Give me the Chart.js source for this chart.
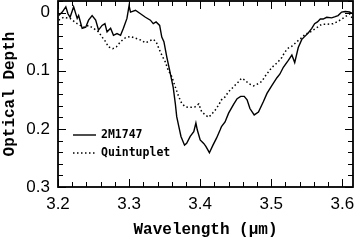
<!DOCTYPE html>
<html>
<head>
<meta charset="utf-8">
<script src="https://cdn.jsdelivr.net/npm/chart.js@4/dist/chart.umd.min.js"></script>
<style>
  html, body { margin: 0; padding: 0; background: #fff; }
  #wrap { width: 357px; height: 240px; }
</style>
</head>
<body>
<div id="wrap"><canvas id="depthChart" width="357" height="240"></canvas></div>
<script>
// 2M1747 spectrum (solid)
const starWave = [3.201, 3.206, 3.211, 3.214, 3.217, 3.222, 3.227, 3.229, 3.234, 3.239, 3.243, 3.248, 3.253, 3.257, 3.262, 3.266, 3.269, 3.274, 3.278, 3.283, 3.288, 3.292, 3.297, 3.300, 3.302, 3.309, 3.316, 3.323, 3.330, 3.334, 3.338, 3.343, 3.346, 3.349, 3.353, 3.357, 3.362, 3.365, 3.367, 3.370, 3.373, 3.378, 3.381, 3.386, 3.391, 3.394, 3.396, 3.400, 3.405, 3.408, 3.413, 3.418, 3.423, 3.428, 3.430, 3.435, 3.440, 3.447, 3.452, 3.457, 3.462, 3.466, 3.470, 3.476, 3.482, 3.489, 3.494, 3.501, 3.508, 3.512, 3.517, 3.524, 3.529, 3.533, 3.538, 3.543, 3.548, 3.552, 3.557, 3.561, 3.565, 3.569, 3.573, 3.578, 3.585, 3.590, 3.594, 3.599, 3.604, 3.610, 3.615];
const starDepth = [0.005, -0.001, -0.010, 0.002, 0.008, -0.010, 0.010, 0.005, 0.027, 0.025, 0.013, 0.005, 0.013, 0.030, 0.022, 0.019, 0.033, 0.027, 0.039, 0.036, 0.039, 0.027, 0.010, -0.012, -0.001, -0.004, 0.002, 0.008, 0.013, 0.019, 0.016, 0.022, 0.042, 0.050, 0.076, 0.099, 0.128, 0.156, 0.179, 0.196, 0.213, 0.228, 0.225, 0.213, 0.205, 0.190, 0.202, 0.219, 0.225, 0.230, 0.241, 0.228, 0.216, 0.202, 0.196, 0.188, 0.173, 0.158, 0.148, 0.144, 0.144, 0.150, 0.165, 0.176, 0.171, 0.153, 0.139, 0.125, 0.112, 0.106, 0.094, 0.082, 0.073, 0.086, 0.060, 0.046, 0.040, 0.035, 0.027, 0.019, 0.016, 0.011, 0.011, 0.008, 0.009, 0.007, 0.005, -0.001, -0.002, -0.001, 0.002];

// Quintuplet spectrum (dotted)
const quintWave = [3.201, 3.208, 3.217, 3.227, 3.236, 3.243, 3.250, 3.257, 3.262, 3.267, 3.271, 3.277, 3.282, 3.288, 3.295, 3.302, 3.309, 3.316, 3.323, 3.330, 3.334, 3.338, 3.342, 3.346, 3.351, 3.355, 3.360, 3.365, 3.370, 3.374, 3.379, 3.384, 3.388, 3.393, 3.398, 3.402, 3.407, 3.412, 3.416, 3.421, 3.426, 3.430, 3.435, 3.440, 3.445, 3.449, 3.454, 3.458, 3.463, 3.468, 3.475, 3.482, 3.487, 3.491, 3.496, 3.501, 3.505, 3.510, 3.515, 3.519, 3.524, 3.530, 3.536, 3.542, 3.548, 3.554, 3.564, 3.571, 3.578, 3.587, 3.594, 3.603, 3.610, 3.615];
const quintDepth = [0.013, 0.008, 0.010, 0.019, 0.025, 0.022, 0.027, 0.033, 0.042, 0.050, 0.059, 0.062, 0.059, 0.050, 0.043, 0.041, 0.044, 0.047, 0.052, 0.048, 0.046, 0.050, 0.062, 0.073, 0.085, 0.099, 0.110, 0.128, 0.145, 0.156, 0.162, 0.163, 0.163, 0.162, 0.157, 0.170, 0.176, 0.180, 0.175, 0.168, 0.159, 0.150, 0.145, 0.136, 0.130, 0.125, 0.119, 0.113, 0.116, 0.122, 0.126, 0.122, 0.118, 0.110, 0.102, 0.094, 0.090, 0.084, 0.077, 0.068, 0.061, 0.057, 0.050, 0.044, 0.037, 0.034, 0.026, 0.020, 0.020, 0.019, 0.015, 0.008, 0.002, 0.012];

const seriesNames = ['2M1747', 'Quintuplet'];
const xTicks = [3.2, 3.3, 3.4, 3.5, 3.6];
const yTicks = [0, 0.1, 0.2, 0.3];

const toPoints = (xs, ys) => xs.map((v, i) => ({ x: v, y: ys[i] }));

// inward ticks on all four sides + frame
const frameTicks = {
    id: 'frameTicks',
    afterDraw(chart) {
        const { ctx, chartArea: a, scales: { x, y } } = chart;
        ctx.save();
        ctx.strokeStyle = '#000';
        ctx.lineWidth = 1;
        ctx.beginPath();
        for (let i = 0; i <= 20; i++) {
            const v = 3.2 + i * 0.02;
            if (v > x.max) break;
            const px = Math.round(x.getPixelForValue(v)) + 0.5;
            const len = i % 5 === 0 ? 8 : 5;
            ctx.moveTo(px, a.bottom); ctx.lineTo(px, a.bottom - len);
            ctx.moveTo(px, a.top); ctx.lineTo(px, a.top + len);
        }
        for (let i = -1; i <= 15; i++) {
            const v = i * 0.02;
            const py = Math.round(y.getPixelForValue(v)) + 0.5;
            const len = i % 5 === 0 ? 8 : 5;
            ctx.moveTo(a.left, py); ctx.lineTo(a.left + len, py);
            ctx.moveTo(a.right, py); ctx.lineTo(a.right - len, py);
        }
        ctx.stroke();
        ctx.lineWidth = 1.8;
        ctx.strokeRect(a.left, a.top, a.right - a.left, a.bottom - a.top);
        ctx.restore();
    }
};

// legend drawn inside the plot, lower left
const innerLegend = {
    id: 'innerLegend',
    afterDatasetsDraw(chart) {
        const ctx = chart.ctx;
        ctx.save();
        ctx.font = 'bold 11.5px "DejaVu Sans Mono"';
        ctx.textBaseline = 'middle';
        ctx.fillStyle = '#000';
        chart.data.datasets.forEach((ds, i) => {
            const yy = 135 + i * 18;
            ctx.strokeStyle = ds.borderColor;
            ctx.lineWidth = ds.borderWidth;
            ctx.setLineDash(ds.borderDash || []);
            ctx.beginPath();
            ctx.moveTo(73, yy); ctx.lineTo(96, yy);
            ctx.stroke();
            ctx.setLineDash([]);
            ctx.fillText(ds.label, 101, yy);
        });
        ctx.restore();
    }
};

new Chart('depthChart', {
    type: 'line',
    data: {
        datasets: [{
            label: seriesNames[0],
            data: toPoints(starWave, starDepth),
            borderColor: '#000',
            borderWidth: 1.4,
            pointRadius: 0,
            tension: 0
        }, {
            label: seriesNames[1],
            data: toPoints(quintWave, quintDepth),
            borderColor: '#000',
            borderWidth: 1.5,
            borderDash: [1.5, 2.5],
            pointRadius: 0,
            tension: 0
        }]
    },
    options: {
        responsive: false,
        animation: false,
        layout: { padding: { top: 1, right: 4, left: 0, bottom: 0 } },
        plugins: { legend: { display: false }, tooltip: { enabled: false } },
        scales: {
            x: {
                type: 'linear',
                min: 3.2,
                max: 3.615,
                afterBuildTicks: s => { s.ticks = xTicks.map(v => ({ value: v })); },
                afterFit: s => { s.height = 53; s.paddingLeft = 0; s.paddingRight = 0; },
                grid: { display: false, drawTicks: false },
                border: { display: false },
                ticks: {
                    padding: 7,
                    color: '#000',
                    font: { family: '"Liberation Sans"', size: 17 },
                    callback: v => v.toFixed(1)
                },
                title: {
                    display: true,
                    text: 'Wavelength (μm)',
                    color: '#000',
                    font: { family: '"Liberation Mono"', size: 16, weight: 'bold' },
                    padding: { top: 4, bottom: 0 }
                }
            },
            y: {
                type: 'linear',
                reverse: true,
                min: -0.02,
                max: 0.3,
                afterBuildTicks: s => { s.ticks = yTicks.map(v => ({ value: v })); },
                afterFit: s => { s.width = 58; s.paddingTop = 0; s.paddingBottom = 0; },
                grid: { display: false, drawTicks: false },
                border: { display: false },
                ticks: {
                    padding: 8,
                    color: '#000',
                    font: { family: '"Liberation Sans"', size: 17 },
                    callback: v => (v === 0 ? '0' : v.toFixed(1))
                },
                title: {
                    display: true,
                    text: 'Optical Depth',
                    color: '#000',
                    font: { family: '"Liberation Mono"', size: 16, weight: 'bold' },
                    padding: { top: 0, bottom: 0 }
                }
            }
        }
    },
    plugins: [frameTicks, innerLegend]
});
</script>
</body>
</html>
